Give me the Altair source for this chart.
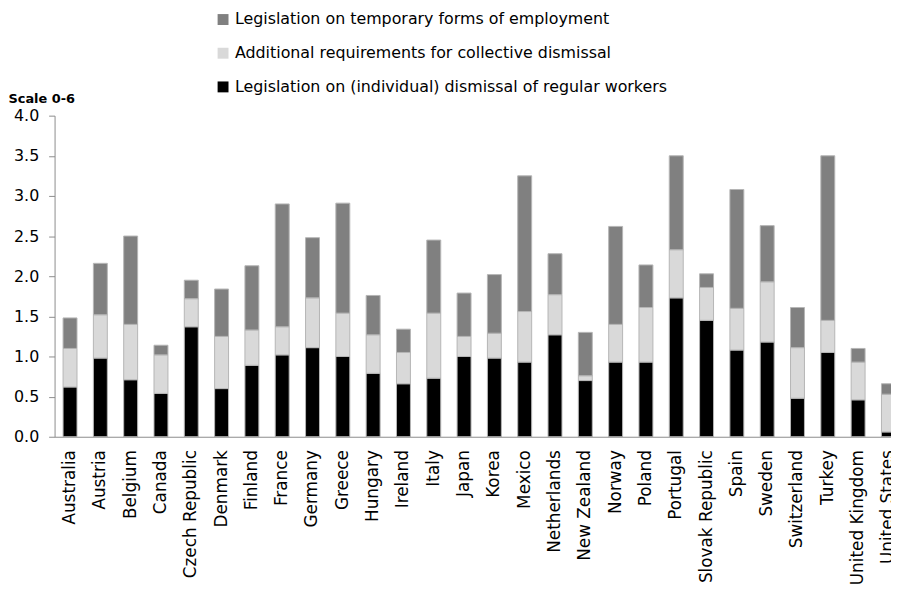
import altair as alt
import pandas as pd

countries = ["Australia", "Austria", "Belgium", "Canada", "Czech Republic", "Denmark",
             "Finland", "France", "Germany", "Greece", "Hungary", "Ireland", "Italy",
             "Japan", "Korea", "Mexico", "Netherlands", "New Zealand", "Norway", "Poland",
             "Portugal", "Slovak Republic", "Spain", "Sweden", "Switzerland", "Turkey",
             "United Kingdom", "United States"]

individual = [0.62, 0.98, 0.71, 0.54, 1.37, 0.60, 0.89, 1.02, 1.11, 1.00, 0.79, 0.66, 0.73,
              1.00, 0.98, 0.93, 1.27, 0.70, 0.93, 0.93, 1.73, 1.45, 1.08, 1.18, 0.48, 1.05,
              0.46, 0.06]
collective = [0.48, 0.54, 0.69, 0.48, 0.35, 0.65, 0.44, 0.35, 0.62, 0.54, 0.48, 0.39, 0.81,
              0.25, 0.31, 0.63, 0.50, 0.06, 0.47, 0.68, 0.60, 0.41, 0.52, 0.75, 0.63, 0.40,
              0.47, 0.47]
temporary = [0.38, 0.64, 1.10, 0.12, 0.23, 0.59, 0.80, 1.53, 0.75, 1.37, 0.49, 0.29, 0.91,
             0.54, 0.73, 1.69, 0.51, 0.54, 1.22, 0.53, 1.17, 0.17, 1.48, 0.70, 0.50, 2.05,
             0.17, 0.13]

series_names = ["Legislation on temporary forms of employment",
                "Additional requirements for collective dismissal",
                "Legislation on (individual) dismissal of regular workers"]
series_colors = ["#808080", "#d9d9d9", "#000000"]
y_ticks = [0.0, 0.5, 1.0, 1.5, 2.0, 2.5, 3.0, 3.5, 4.0]

rows = []
for i, c in enumerate(countries):
    rows.append({"country": c, "series": series_names[2], "value": individual[i], "ord": 0})
    rows.append({"country": c, "series": series_names[1], "value": collective[i], "ord": 1})
    rows.append({"country": c, "series": series_names[0], "value": temporary[i], "ord": 2})
df = pd.DataFrame(rows)

FONT = "DejaVu Sans"

chart = alt.Chart(df).mark_bar(stroke="#b5b5b5", strokeWidth=1).encode(
    x=alt.X("country:N", sort=countries,
            scale=alt.Scale(range=[0, 857], paddingInner=0.54, paddingOuter=0.28),
            axis=alt.Axis(title=None, labelAngle=-90, labelFontSize=17, labelFont=FONT,
                          labelColor="#000000", ticks=False, labelPadding=13,
                          domainColor="#8c8c8c", labelOverlap=False)),
    y=alt.Y("value:Q", stack="zero",
            scale=alt.Scale(domain=[0, 4], nice=False),
            axis=alt.Axis(title="Scale 0-6", values=y_ticks, format=".1f", grid=False,
                          labelFontSize=16, labelFont=FONT, labelColor="#000000",
                          labelPadding=10, tickSize=6, tickColor="#8c8c8c",
                          domainColor="#8c8c8c",
                          titleAngle=0, titleAlign="left", titleBaseline="middle",
                          titleX=-47, titleY=-17, titleFontSize=13, titleFont=FONT,
                          titleFontWeight="bold", titleColor="#000000")),
    color=alt.Color("series:N",
                    scale=alt.Scale(domain=series_names, range=series_colors),
                    legend=alt.Legend(title=None, orient="none", legendX=162, legendY=-105,
                                      symbolType="square", symbolSize=121,
                                      symbolStrokeWidth=0, labelFontSize=16,
                                      labelFont=FONT, labelColor="#000000",
                                      labelLimit=700, rowPadding=18, labelOffset=4)),
    order=alt.Order("ord:Q", sort="ascending"),
).properties(
    width=836, height=324,
    autosize=alt.AutoSizeParams(type="none"),
    padding={"left": 47, "top": 106, "right": 8, "bottom": 150},
).configure_view(stroke=None)

chart.save("out.html", embed_options={"renderer": "svg", "actions": False})
